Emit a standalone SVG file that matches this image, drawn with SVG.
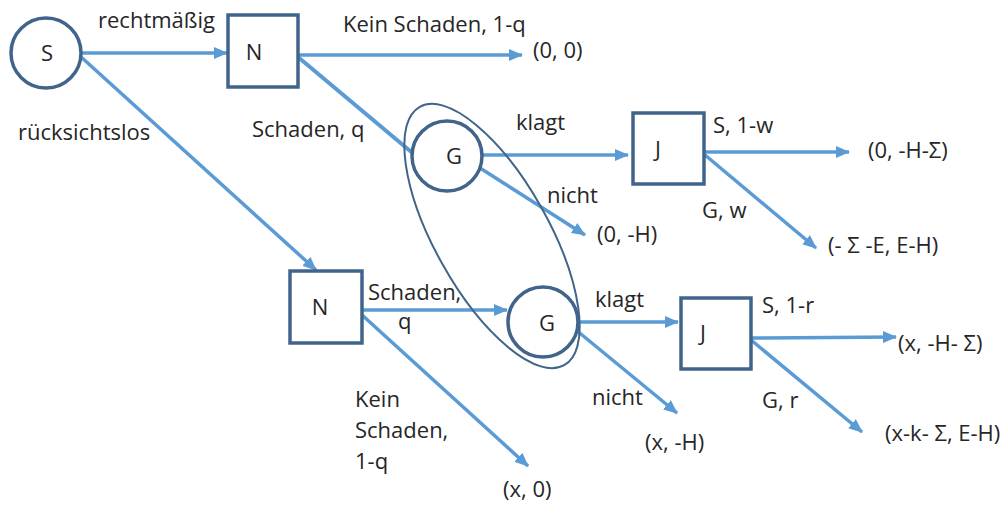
<svg xmlns="http://www.w3.org/2000/svg" width="1008" height="505" viewBox="0 0 1008 505">
<defs>
<marker id="ah" markerUnits="userSpaceOnUse" markerWidth="14" markerHeight="12" refX="13" refY="6" orient="auto">
<path d="M0,0 L14,6 L0,12 Z" fill="#5b9bd5"/>
</marker>
<style>
.node{fill:#fff;stroke:#41648a;stroke-width:3.5}
.edge{stroke:#5b9bd5;stroke-width:3.5;fill:none;marker-end:url(#ah)}
text{font-family:"Open Sans","Liberation Sans",sans-serif;font-size:22px;fill:#262626}
.c{text-anchor:middle}
</style>
</defs>
<rect width="1008" height="505" fill="#fff"/>
<g id="connectors">
<line class="edge" x1="82" y1="53" x2="227" y2="53"/>
<line class="edge" x1="80" y1="56" x2="316" y2="270"/>
<line class="edge" x1="298" y1="55" x2="522" y2="55"/>
<line class="edge" x1="298" y1="57" x2="428" y2="166" style="stroke-width:4"/>
<line class="edge" x1="483" y1="155" x2="628" y2="155"/>
<line class="edge" x1="480" y1="168" x2="585" y2="235"/>
<line class="edge" x1="705" y1="152" x2="849" y2="152"/>
<line class="edge" x1="705" y1="155" x2="816" y2="248"/>
<line class="edge" x1="362" y1="310" x2="507" y2="310"/>
<line class="edge" x1="362" y1="315" x2="528" y2="466"/>
<line class="edge" x1="578" y1="322" x2="678" y2="322"/>
<line class="edge" x1="576" y1="330" x2="677" y2="413"/>
<line class="edge" x1="751" y1="338" x2="896" y2="337"/>
<line class="edge" x1="751" y1="340" x2="862" y2="432"/>
</g>
<g id="node-S"><circle class="node" cx="46" cy="53" r="35"/><text class="c" x="47" y="61">S</text></g>
<g id="node-N1"><rect class="node" x="228" y="15" width="70" height="72"/><text class="c" x="254" y="60">N</text></g>
<g id="node-G1"><circle class="node" cx="447" cy="156" r="35"/><text class="c" x="454" y="164">G</text></g>
<g id="node-J1"><rect class="node" x="633" y="113" width="71" height="71"/><text class="c" x="658" y="157">J</text></g>
<g id="node-N2"><rect class="node" x="290" y="271" width="72" height="72"/><text class="c" x="320" y="315">N</text></g>
<g id="node-G2"><circle class="node" cx="543" cy="322" r="35"/><text class="c" x="547" y="331">G</text></g>
<g id="node-J2"><rect class="node" x="681" y="298" width="70" height="71"/><text class="c" x="703" y="341">J</text></g>
<g id="info-set"><ellipse cx="492" cy="236" rx="148" ry="57" transform="rotate(60.8 492 236)" fill="none" stroke="#41648a" stroke-width="2"/></g>
<g id="labels">
<text x="98" y="28">rechtmäßig</text>
<text x="18" y="140">rücksichtslos</text>
<text x="343" y="32">Kein Schaden, 1-q</text>
<text x="533" y="58">(0, 0)</text>
<text x="252" y="137">Schaden, q</text>
<text x="516" y="130">klagt</text>
<text x="547" y="203">nicht</text>
<text x="597" y="242">(0, -H)</text>
<text x="713" y="133">S, 1-w</text>
<text x="868" y="158">(0, -H-Σ)</text>
<text x="702" y="218">G, w</text>
<text x="828" y="253">(- Σ -E, E-H)</text>
<text x="368" y="300">Schaden,</text>
<text x="398" y="329">q</text>
<text x="595" y="307">klagt</text>
<text x="592" y="405">nicht</text>
<text x="645" y="450">(x, -H)</text>
<text x="762" y="313">S, 1-r</text>
<text x="898" y="351">(x, -H- Σ)</text>
<text x="762" y="408">G, r</text>
<text x="885" y="441">(x-k- Σ, E-H)</text>
<text x="355" y="407">Kein</text>
<text x="355" y="438">Schaden,</text>
<text x="355" y="469">1-q</text>
<text x="503" y="497">(x, 0)</text>
</g>
</svg>
